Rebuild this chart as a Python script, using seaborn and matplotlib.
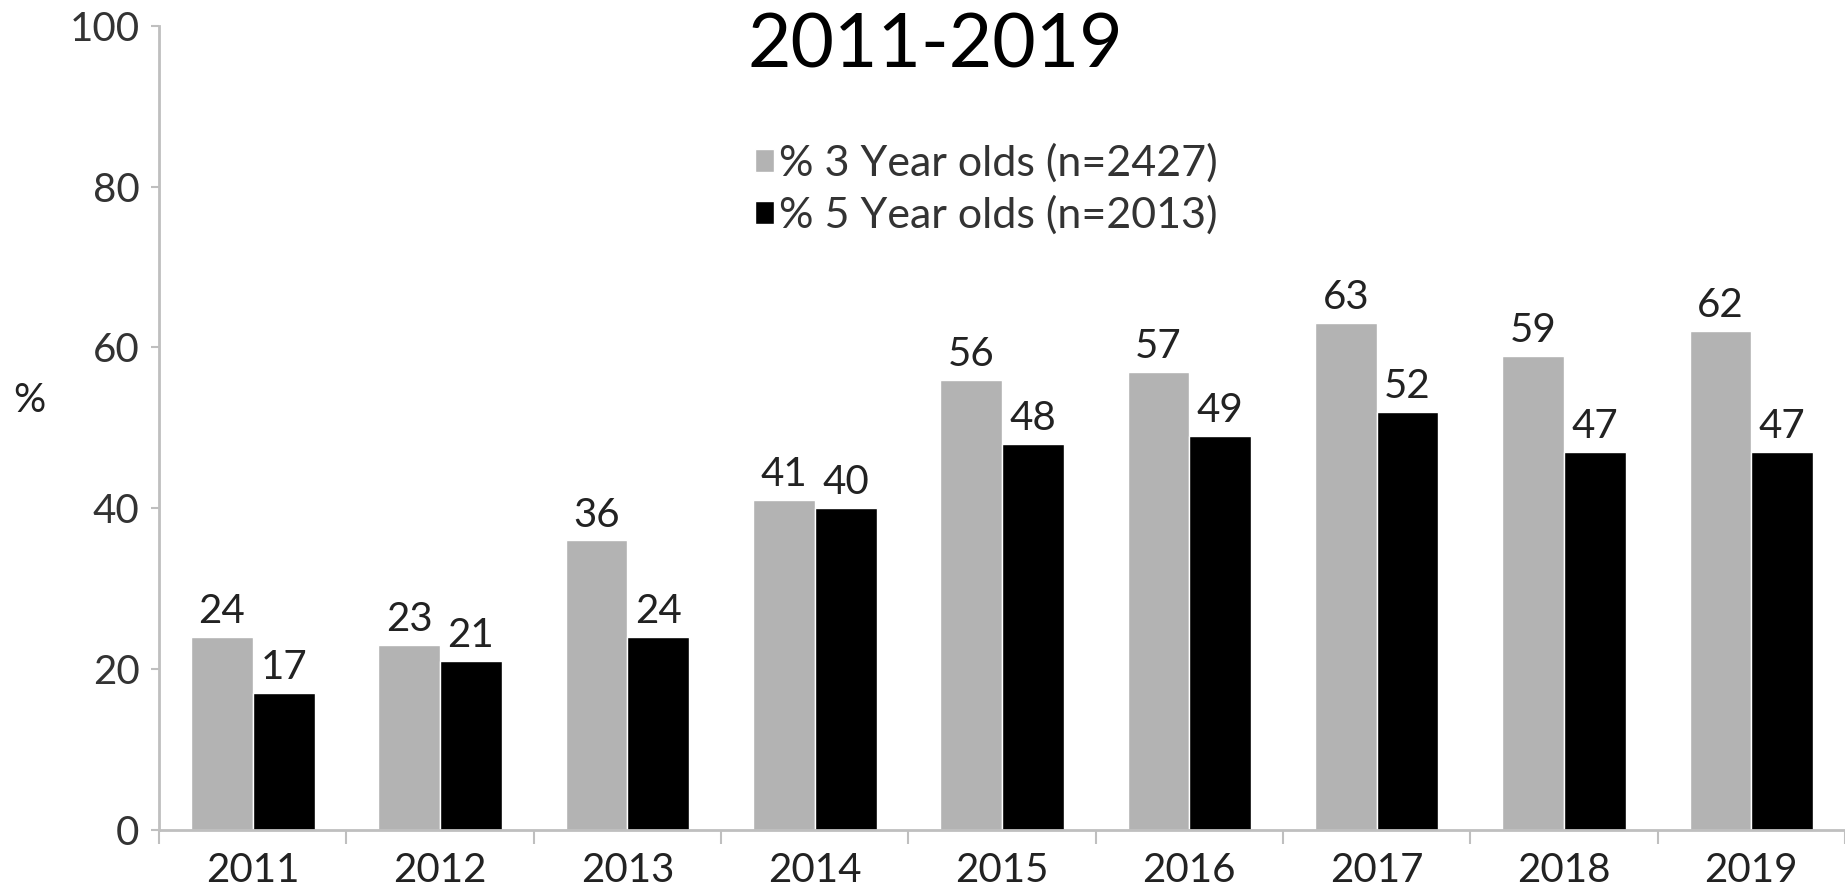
import matplotlib
matplotlib.use("Agg")
import matplotlib.pyplot as plt
import seaborn as sns
import pandas as pd
from matplotlib.ticker import FixedLocator

years = ["2011", "2012", "2013", "2014", "2015", "2016", "2017", "2018", "2019"]
three_year = [24, 23, 36, 41, 56, 57, 63, 59, 62]
five_year = [17, 21, 24, 40, 48, 49, 52, 47, 47]
series_names = ["% 3 Year olds (n=2427)", "% 5 Year olds (n=2013)"]
title_text = "2011-2019"

df = pd.DataFrame({
    "year": years * 2,
    "value": three_year + five_year,
    "group": [series_names[0]] * len(years) + [series_names[1]] * len(years),
})

sns.set_theme(style="white")
plt.rcParams["font.family"] = ["Lato", "DejaVu Sans"]

fig = plt.figure(figsize=(18.45, 8.91), dpi=100)
ax = fig.add_axes([0.0862, 0.0685, 0.9138, 0.9025])

sns.barplot(data=df, x="year", y="value", hue="group", order=years,
            hue_order=series_names, palette=["#b3b3b3", "#000000"],
            width=0.66, ax=ax, saturation=1, legend=True)

for c in ax.containers:
    ax.bar_label(c, fmt="%d", padding=5, fontsize=29, color="#222222")

ax.set_xlim(-0.5, 8.5)
ax.set_ylim(0, 100)
ax.set_yticks([0, 20, 40, 60, 80, 100])
ax.set_xlabel("")
ax.set_ylabel("")
ax.tick_params(axis="y", labelsize=29, labelcolor="#333333", length=6,
               width=1.5, color="#bfbfbf", left=True, pad=8)
ax.tick_params(axis="x", which="major", labelsize=29, labelcolor="#222222",
               length=0, pad=16)
ax.xaxis.set_minor_locator(FixedLocator([i - 0.5 for i in range(len(years) + 1)]))
ax.tick_params(axis="x", which="minor", length=10, width=1.5, color="#bfbfbf",
               bottom=True, direction="out")

for s in ["top", "right"]:
    ax.spines[s].set_visible(False)
for s in ["left", "bottom"]:
    ax.spines[s].set_color("#bfbfbf")
    ax.spines[s].set_linewidth(2)

fig.text(0.016, 0.551, "%", fontsize=29, color="#222222", ha="center", va="center")
fig.text(0.507, 0.948, title_text, fontsize=54, color="#000000", ha="center", va="center")

leg = ax.legend(loc="center left", bbox_to_anchor=(0.409, 0.788),
                bbox_transform=fig.transFigure, frameon=False, fontsize=31,
                handlelength=0.45, handleheight=0.45, handletextpad=0.12,
                labelspacing=0.3, borderaxespad=0, borderpad=0)
for t in leg.get_texts():
    t.set_color("#333333")

fig.savefig("out.png", dpi=100)
